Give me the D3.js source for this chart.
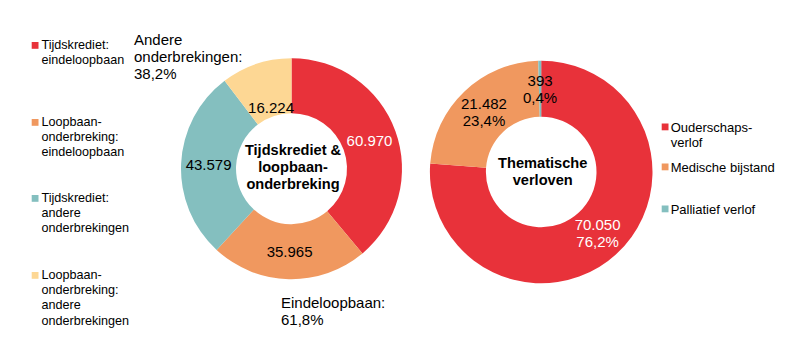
<!DOCTYPE html>
<html><head><meta charset="utf-8">
<script src="https://cdn.jsdelivr.net/npm/d3@7/dist/d3.min.js"></script>
<style>
body{margin:0;background:#fff;}
text{font-family:"Liberation Sans",Arial,sans-serif;fill:#000;}
</style></head>
<body><svg id="c" width="809" height="357"></svg>
<script>
// Data
const leftCategories = ["Tijdskrediet: eindeloopbaan","Loopbaan-onderbreking: eindeloopbaan","Tijdskrediet: andere onderbrekingen","Loopbaan-onderbreking: andere onderbrekingen"];
const leftValues = [60970, 35965, 43579, 16224];
const leftValueLabels = ["60.970","35.965","43.579","16.224"];
const leftLegendLines = [["Tijdskrediet:","eindeloopbaan"],["Loopbaan-","onderbreking:","eindeloopbaan"],["Tijdskrediet:","andere","onderbrekingen"],["Loopbaan-","onderbreking:","andere","onderbrekingen"]];
const leftTitle = ["Tijdskrediet &","loopbaan-","onderbreking"];
const leftAnnotTop = ["Andere","onderbrekingen:","38,2%"];
const leftAnnotBottom = ["Eindeloopbaan:","61,8%"];

const rightCategories = ["Ouderschapsverlof","Medische bijstand","Palliatief verlof"];
const rightValues = [70050, 21482, 393];
const rightValueLabels = [["70.050","76,2%"],["21.482","23,4%"],["393","0,4%"]];
const rightLegendLines = [["Ouderschaps-","verlof"],["Medische bijstand"],["Palliatief verlof"]];
const rightTitle = ["Thematische","verloven"];

const colorsLeft = ["#e8323a","#f0985f","#84bfbf","#fdd794"];
const colorsRight = ["#e8323a","#f0985f","#84bfbf"];

const svg = d3.select("#c");
const pie = d3.pie().sort(null).value(d=>d);

function donut(values, colors, cx, cy, rOut, rIn, labels, labelColors, labelR){
  const g = svg.append("g").attr("transform",`translate(${cx},${cy})`);
  const arcs = pie(values);
  const arc = d3.arc().innerRadius(rIn).outerRadius(rOut);
  g.selectAll("path").data(arcs).join("path").attr("d",arc).attr("fill",(d,i)=>colors[i]);
  arcs.forEach((a,i)=>{
    const la = d3.arc().innerRadius(labelR[i]).outerRadius(labelR[i]);
    const [x,y] = la.centroid(a);
    const lines = Array.isArray(labels[i]) ? labels[i] : [labels[i]];
    const lh = 17;
    const t = g.append("text").attr("text-anchor","middle").attr("font-size",15)
      .style("fill",labelColors[i]);
    lines.forEach((l,j)=>{
      t.append("tspan").attr("x",x).attr("y",y + 5.3 + (j-(lines.length-1)/2)*lh).text(l);
    });
  });
  return g;
}

// Left donut
const L = donut(leftValues, colorsLeft, 291.5, 168.7, 110.5, 55.5, leftValueLabels,
  ["#fff","#000","#000","#000"], [83,83,83,64]);
leftTitle.forEach((l,j)=>{
  L.append("text").attr("text-anchor","middle").attr("font-size",14.6).attr("font-weight","bold")
   .attr("x",1.5).attr("y",-13.5+j*16.7).text(l);
});

// Right donut
const R = donut(rightValues, colorsRight, 541.2, 172, 111.3, 55.3, rightValueLabels,
  ["#fff","#000","#000"], [83,83,83]);
rightTitle.forEach((l,j)=>{
  R.append("text").attr("text-anchor","middle").attr("font-size",14.6).attr("font-weight","bold")
   .attr("x",1.5).attr("y",-4+j*17).text(l);
});

// Annotations
function multi(x,y,lines,size,lh){
  const t = svg.append("text").attr("font-size",size);
  lines.forEach((l,j)=>t.append("tspan").attr("x",x).attr("y",y+j*lh).text(l));
}
multi(134,45,leftAnnotTop,15,17);
multi(281,308,leftAnnotBottom,15,16.5);

// Left legend
const leftLegendY = [49,126,202,279];
leftLegendLines.forEach((lines,i)=>{
  svg.append("rect").attr("x",31.7).attr("y",leftLegendY[i]-7).attr("width",6.8).attr("height",6.8).attr("fill",colorsLeft[i]);
  multi(41.5,leftLegendY[i],lines,12.6,15.2);
});

// Right legend
const rightLegendY = [132,172,214];
rightLegendLines.forEach((lines,i)=>{
  svg.append("rect").attr("x",661.7).attr("y",rightLegendY[i]-8.5).attr("width",6.8).attr("height",6.8).attr("fill",colorsRight[i]);
  multi(670.7,rightLegendY[i],lines,13,14.5);
});
</script></body></html>
